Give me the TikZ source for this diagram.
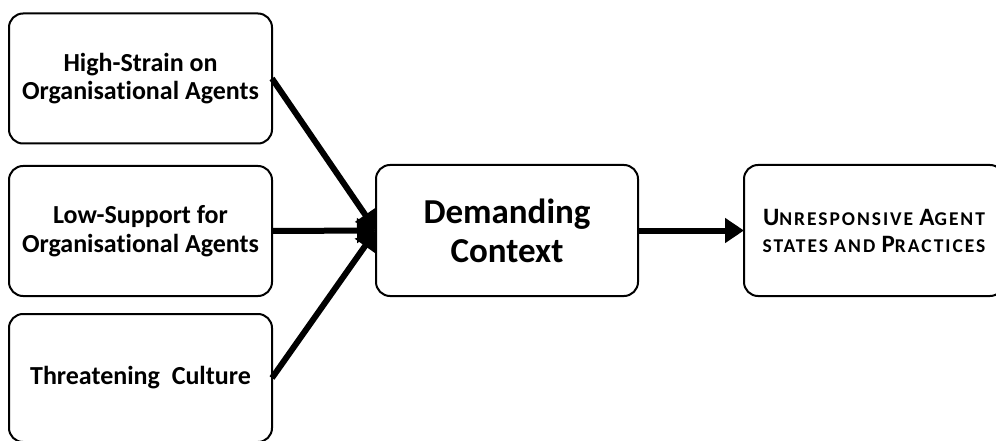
\documentclass[tikz,border=0pt]{standalone}
\usepackage{fontspec}
\setmainfont{Carlito}[Ligatures={NoCommon}]
\usetikzlibrary{arrows.meta}
\tikzset{
  factor/.style={draw, line width=2pt, rounded corners=14pt, inner sep=0pt, outer sep=0pt,
    minimum width=263pt, minimum height=130pt, align=center,
    font=\fontsize{26}{28.5}\selectfont\bfseries},
  hub/.style={factor, minimum width=262pt, minimum height=131pt,
    font=\fontsize{35}{39}\selectfont\bfseries},
  outcome/.style={factor, minimum width=260pt, minimum height=131pt,
    font=\fontsize{19.5}{27}\selectfont\bfseries\addfontfeature{LetterSpace=10}},
  flow/.style={line width=6pt, -{Triangle[length=19pt,width=24pt]}},
}
\newcommand{\bigC}[1]{{\fontsize{25}{27}\selectfont #1}}
\begin{document}
\begin{tikzpicture}[x=1pt,y=-1pt]
  \useasboundingbox (0,0) rectangle (996,441);
  \clip (0,0) rectangle (996,441);
  \fill[white] (0,0) rectangle (996,441);

  \node[factor] (strain) at (140.5,78.5) {High-Strain on\\Organisational Agents};
  \node[factor] (support) at (140.5,231) {Low-Support for\\Organisational Agents};
  \node[factor, minimum height=128pt] (culture) at (140.5,378) {Threatening\ \ Culture};
  \node[hub] (context) at (507,230.5) {Demanding\\Context};
  \node[outcome] (states) at (874,230.5)
    {\bigC{U}NRESPONSIVE \bigC{A}GENT\\STATES AND \bigC{P}RACTICES};

  \draw[flow] (strain.east) -- (context.west);
  \draw[flow] (support.east) -- (context.west);
  \draw[flow] (culture.east) -- (context.west);
  \draw[flow] (context.east) -- (states.west);
\end{tikzpicture}
\end{document}
